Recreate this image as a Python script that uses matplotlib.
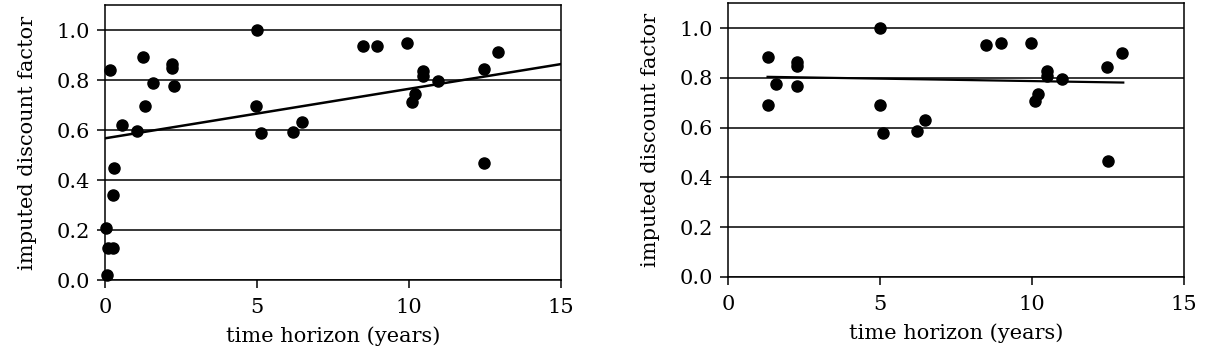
import numpy as np
import matplotlib
matplotlib.use('Agg')
import matplotlib.pyplot as plt

# datos: horizonte (anios) y factor de descuento imputado
# panel izquierdo: todas las observaciones
x_todos = [0.16, 1.24, 1.59, 2.22, 2.22, 2.27, 1.32, 0.57, 1.04, 0.31, 0.27,
           0.03, 0.11, 0.27, 0.05, 4.99, 4.97, 5.12, 6.20, 6.47, 8.48, 8.96,
           9.94, 10.45, 10.45, 10.20, 10.09, 10.96, 12.48, 12.94, 12.48]
y_todos = [0.84, 0.893, 0.79, 0.864, 0.847, 0.776, 0.697, 0.62, 0.596, 0.45, 0.34,
           0.21, 0.127, 0.127, 0.02, 1.0, 0.696, 0.587, 0.593, 0.633, 0.936, 0.936,
           0.947, 0.836, 0.816, 0.743, 0.713, 0.797, 0.844, 0.911, 0.469]
recta_izq_x = [0, 15]
recta_izq_y = [0.567, 0.864]

# panel derecho: solo horizontes mayores a un anio
x_largo = [1.33, 1.33, 1.57, 2.26, 2.26, 2.26, 5.0, 5.0, 5.09, 6.21, 6.49,
           8.49, 8.98, 9.96, 10.48, 10.48, 10.21, 10.10, 10.98, 12.46, 12.97, 12.51]
y_largo = [0.884, 0.692, 0.777, 0.864, 0.848, 0.768, 1.0, 0.692, 0.579, 0.585, 0.631,
           0.931, 0.939, 0.939, 0.828, 0.808, 0.735, 0.708, 0.797, 0.844, 0.899, 0.464]
recta_der_x = [1.3, 13.0]
recta_der_y = [0.804, 0.781]

xticks = [0, 5, 10, 15]
yticks = [0.0, 0.2, 0.4, 0.6, 0.8, 1.0]

plt.rcParams['font.family'] = 'DejaVu Serif'
plt.rcParams['font.size'] = 15

fig = plt.figure(figsize=(12.07, 3.52), dpi=100)
ax1 = fig.add_axes([0.087, 0.2045, 0.3778, 0.781])
ax2 = fig.add_axes([0.6032, 0.2131, 0.3778, 0.778])

def panel(ax, xs, ys, rx, ry, lw_recta):
    for y in yticks:
        ax.axhline(y, color='black', lw=1.1, zorder=1)
    ax.plot(rx, ry, color='black', lw=lw_recta, zorder=2)
    ax.plot(xs, ys, 'o', color='black', markersize=8, zorder=3, clip_on=False)
    ax.set_xlim(0, 15)
    ax.set_ylim(0, 1.1)
    ax.set_xticks(xticks)
    ax.set_yticks(yticks)
    ax.set_yticklabels(['%.1f' % v for v in yticks])
    ax.tick_params(direction='out', length=6, width=1.1, color='black')
    ax.tick_params(axis='x', pad=7)
    ax.tick_params(axis='y', pad=5)
    for s in ax.spines.values():
        s.set_linewidth(1.1)
    ax.set_xlabel('time horizon (years)', labelpad=7)
    ax.set_ylabel('imputed discount factor', labelpad=14)

panel(ax1, x_todos, y_todos, recta_izq_x, recta_izq_y, 1.8)
panel(ax2, x_largo, y_largo, recta_der_x, recta_der_y, 1.6)

plt.savefig('out.png', dpi=100)
